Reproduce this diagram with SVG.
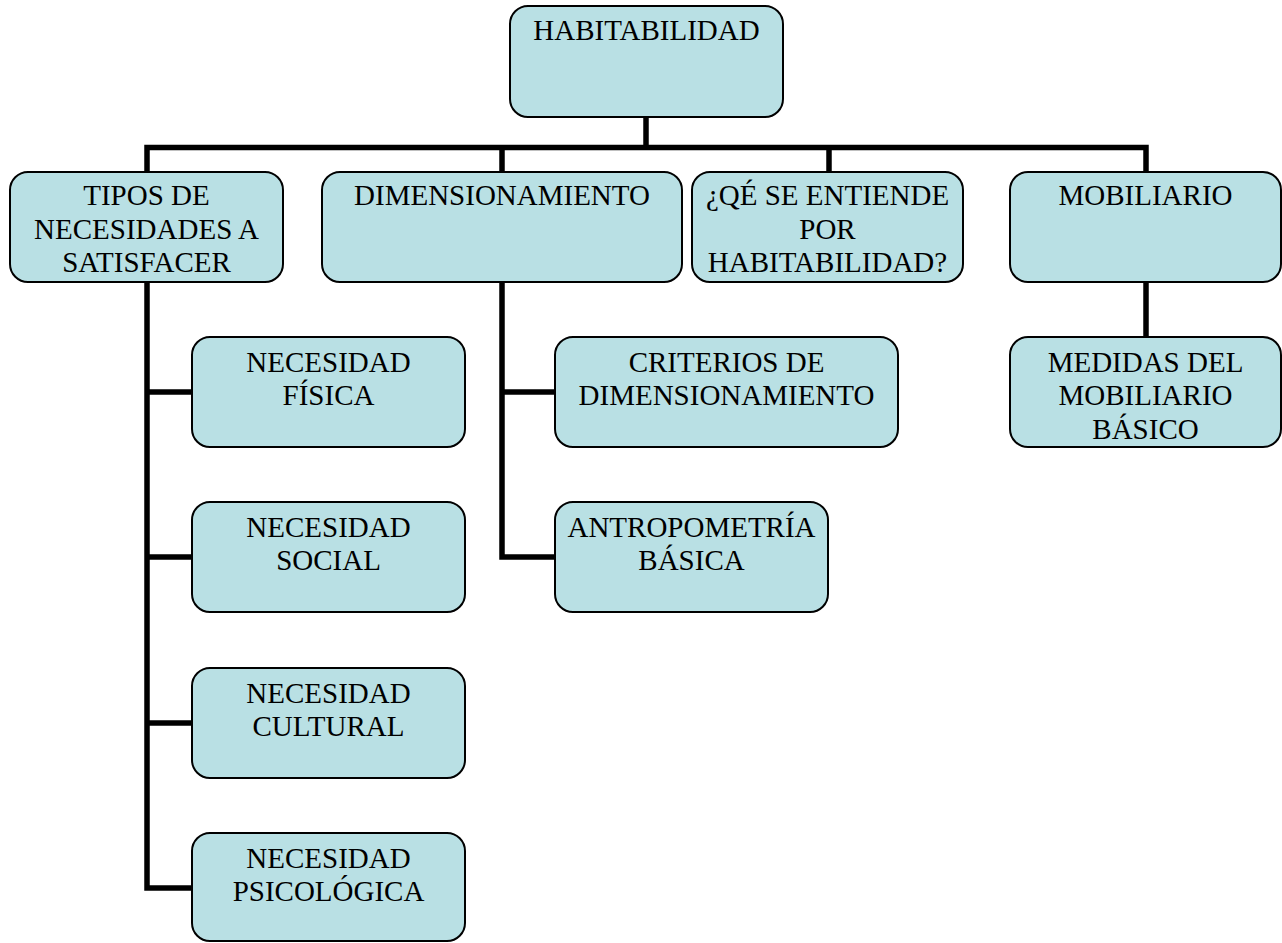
<svg xmlns="http://www.w3.org/2000/svg" width="1282" height="943" viewBox="0 0 1282 943">
<style>
.box{fill:#b9e0e4;stroke:#000;stroke-width:2}
.t{font-family:"Liberation Serif","Times New Roman",serif;font-size:29px;fill:#000;text-anchor:middle}
.c{fill:none;stroke:#000;stroke-width:5.5;stroke-linejoin:miter}
</style>
<rect width="1282" height="943" fill="#fff"/>
<g id="connectors">
<path class="c" d="M646 117 V147.5"/>
<path class="c" d="M147 172 V147.5 H1146 V172"/>
<path class="c" d="M502 147.5 V172"/>
<path class="c" d="M829 147.5 V172"/>
<path class="c" d="M147 282 V888 H192"/>
<path class="c" d="M147 392 H192 M147 557 H192 M147 723 H192"/>
<path class="c" d="M502 282 V557 H555"/>
<path class="c" d="M502 392 H555"/>
<path class="c" d="M1146 282 V337"/>
</g>
<g id="habitabilidad"><rect class="box" x="510" y="6" width="273" height="111" rx="18"/><text class="t" x="646.5" y="40">HABITABILIDAD</text></g>
<g id="tipos"><rect class="box" x="10" y="172" width="273" height="110" rx="18"/><text class="t" x="146.5" y="205">TIPOS DE</text><text class="t" x="146.5" y="238.5">NECESIDADES A</text><text class="t" x="146.5" y="272">SATISFACER</text></g>
<g id="dimensionamiento"><rect class="box" x="322" y="172" width="360" height="110" rx="18"/><text class="t" x="502" y="205">DIMENSIONAMIENTO</text></g>
<g id="que"><rect class="box" x="692" y="172" width="271" height="110" rx="18"/><text class="t" x="827.5" y="205">¿QÉ SE ENTIENDE</text><text class="t" x="827.5" y="238.5">POR</text><text class="t" x="827.5" y="272">HABITABILIDAD?</text></g>
<g id="mobiliario"><rect class="box" x="1010" y="172" width="271" height="110" rx="18"/><text class="t" x="1145.5" y="205">MOBILIARIO</text></g>
<g id="fisica"><rect class="box" x="192" y="337" width="273" height="110" rx="18"/><text class="t" x="328.5" y="371.5">NECESIDAD</text><text class="t" x="328.5" y="405">FÍSICA</text></g>
<g id="social"><rect class="box" x="192" y="502" width="273" height="110" rx="18"/><text class="t" x="328.5" y="536.5">NECESIDAD</text><text class="t" x="328.5" y="570">SOCIAL</text></g>
<g id="cultural"><rect class="box" x="192" y="668" width="273" height="110" rx="18"/><text class="t" x="328.5" y="702.5">NECESIDAD</text><text class="t" x="328.5" y="736">CULTURAL</text></g>
<g id="psicologica"><rect class="box" x="192" y="833" width="273" height="108" rx="18"/><text class="t" x="328.5" y="867.5">NECESIDAD</text><text class="t" x="328.5" y="901">PSICOLÓGICA</text></g>
<g id="criterios"><rect class="box" x="555" y="337" width="343" height="110" rx="18"/><text class="t" x="726.5" y="371.5">CRITERIOS DE</text><text class="t" x="726.5" y="405">DIMENSIONAMIENTO</text></g>
<g id="antropometria"><rect class="box" x="555" y="502" width="273" height="110" rx="18"/><text class="t" x="691.5" y="536.5">ANTROPOMETRÍA</text><text class="t" x="691.5" y="570">BÁSICA</text></g>
<g id="medidas"><rect class="box" x="1010" y="337" width="271" height="110" rx="18"/><text class="t" x="1145.5" y="371.5">MEDIDAS DEL</text><text class="t" x="1145.5" y="405">MOBILIARIO</text><text class="t" x="1145.5" y="438.5">BÁSICO</text></g>
</svg>
